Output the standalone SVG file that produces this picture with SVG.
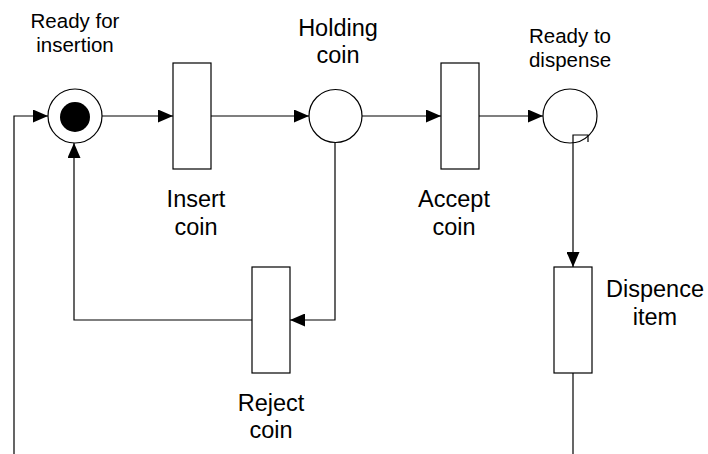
<svg xmlns="http://www.w3.org/2000/svg" width="708" height="454" viewBox="0 0 708 454">
<style>
.shape{fill:#fff;stroke:#000;stroke-width:1.2}
.edge{fill:none;stroke:#000;stroke-width:1.2}
text{font-family:"Liberation Sans",Arial,sans-serif;fill:#000;text-anchor:middle}
.sm{font-size:20.5px}
.lg{font-size:23.5px}
</style>
<defs>
<marker id="arr" viewBox="0 0 15 13" refX="15" refY="6.5" markerWidth="15" markerHeight="13" markerUnits="userSpaceOnUse" orient="auto">
<path d="M0,0 L15,6.5 L0,13 Z" fill="#000"/>
</marker>
</defs>
<rect width="708" height="454" fill="#fff"/>
<g id="ready-for-insertion">
<circle class="shape" cx="75" cy="116" r="27"/>
<circle cx="75" cy="117" r="15" fill="#000"/>
<text class="sm" x="75" y="27.5">Ready for</text>
<text class="sm" x="75" y="51.5">insertion</text>
</g>
<g id="insert-coin">
<rect class="shape" x="173" y="63" width="38" height="106"/>
<text class="lg" x="196" y="207">Insert</text>
<text class="lg" x="196" y="235">coin</text>
</g>
<g id="holding-coin">
<circle class="shape" cx="335.5" cy="116" r="26.5"/>
<text class="lg" x="338" y="36">Holding</text>
<text class="lg" x="338" y="63">coin</text>
</g>
<g id="accept-coin">
<rect class="shape" x="441" y="63" width="38" height="106"/>
<text class="lg" x="454" y="207">Accept</text>
<text class="lg" x="454" y="235">coin</text>
</g>
<g id="ready-to-dispense">
<circle class="shape" cx="570" cy="116" r="27"/>
<text class="sm" x="570" y="42.5">Ready to</text>
<text class="sm" x="570" y="66.5">dispense</text>
</g>
<g id="reject-coin">
<rect class="shape" x="252" y="267" width="38" height="106"/>
<text class="lg" x="271" y="411">Reject</text>
<text class="lg" x="271" y="438">coin</text>
</g>
<g id="dispence-item">
<rect class="shape" x="554" y="267" width="38" height="106"/>
<text class="lg" x="655" y="297">Dispence</text>
<text class="lg" x="655" y="325">item</text>
</g>
<g id="connectors">
<path class="edge" d="M14,454 L14,116 L48,116" marker-end="url(#arr)"/>
<path class="edge" d="M102,116 L173,116" marker-end="url(#arr)"/>
<path class="edge" d="M211,116 L309,116" marker-end="url(#arr)"/>
<path class="edge" d="M362,116 L441,116" marker-end="url(#arr)"/>
<path class="edge" d="M479,116 L543,116" marker-end="url(#arr)"/>
<path class="edge" d="M335,143 L335,320 L290,320" marker-end="url(#arr)"/>
<path class="edge" d="M252,320 L74,320 L74,143" marker-end="url(#arr)"/>
<path class="edge" d="M588,142 L588,135 L573,135 L573,267" marker-end="url(#arr)"/>
<path class="edge" d="M573,373 L573,454"/>
</g>
</svg>
